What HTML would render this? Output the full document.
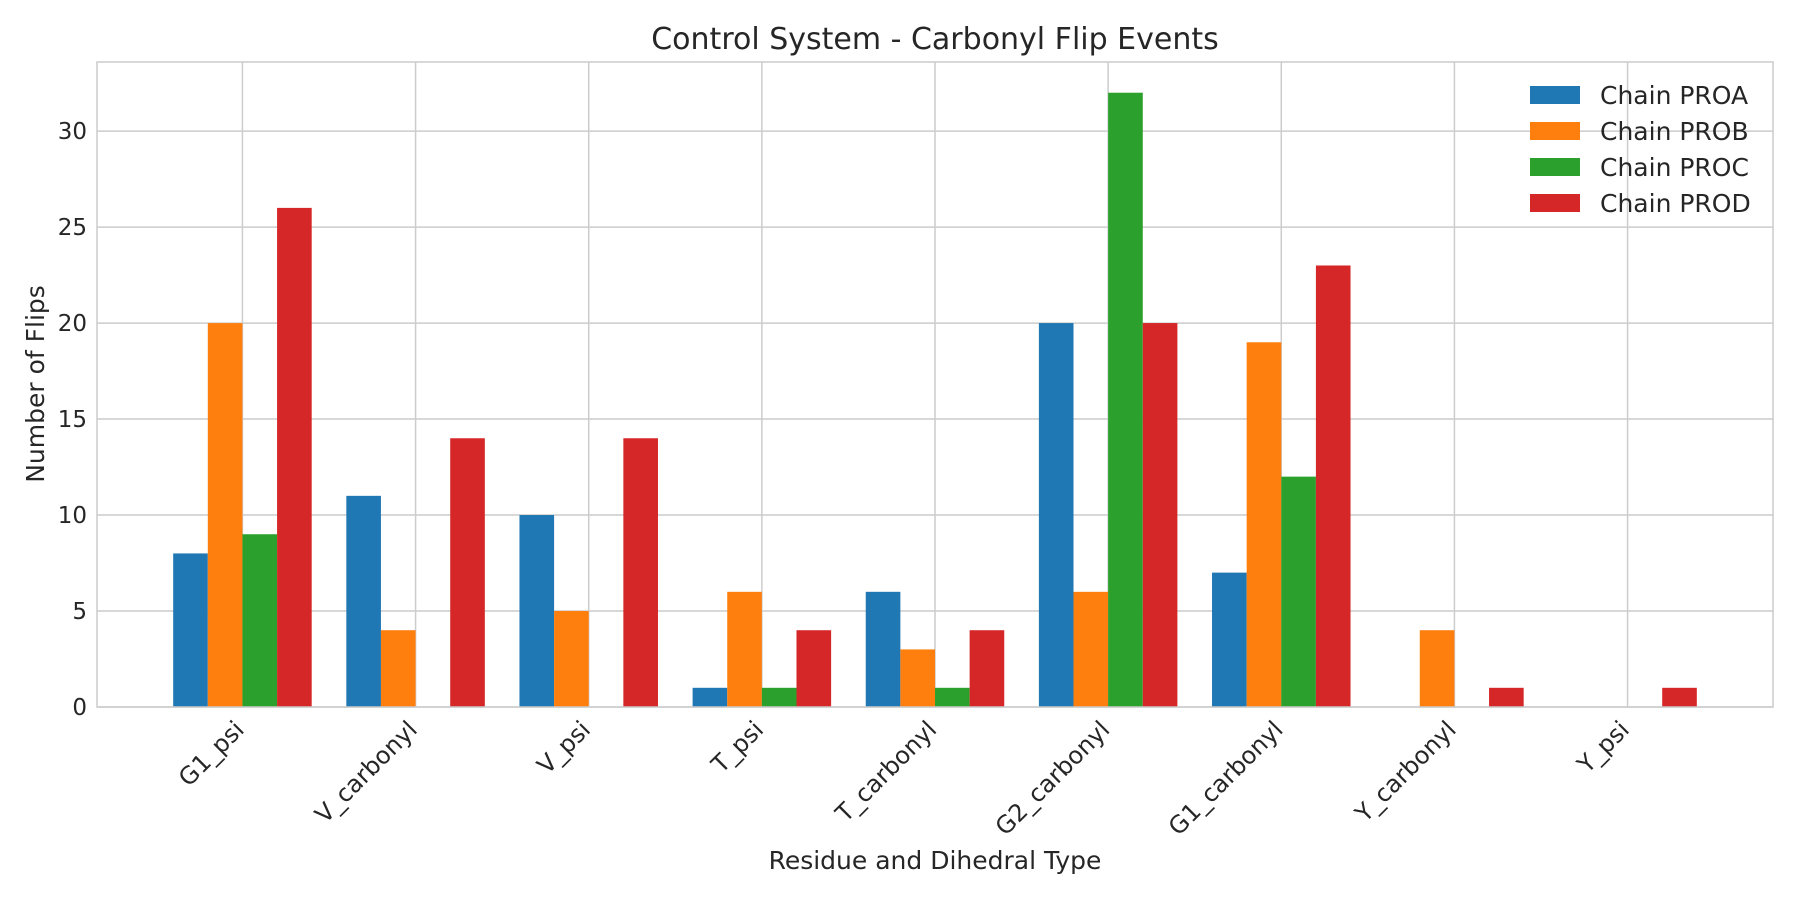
<!DOCTYPE html>
<html><head><meta charset="utf-8"><style>body{margin:0;background:#fff}svg text{font-family:"DejaVu Sans","Liberation Sans",sans-serif;fill:#262626}</style></head>
<body>
<svg id="chart" width="1800" height="900" xmlns="http://www.w3.org/2000/svg">
<text x="935" y="49" font-size="30" text-anchor="middle">Control System - Carbonyl Flip Events</text>
<text x="935" y="869" font-size="25" text-anchor="middle">Residue and Dihedral Type</text>
<text transform="translate(44,384) rotate(-90)" font-size="25" text-anchor="middle">Number of Flips</text>
<g id="grid"></g><g id="bars"></g><g id="ticks"></g>
<rect x="97" y="62" width="1676" height="645" fill="none" stroke="#ccc" stroke-width="1.5"/>
<g id="legend"></g>
</svg>
<script>
const categories=["G1_psi","V_carbonyl","V_psi","T_psi","T_carbonyl","G2_carbonyl","G1_carbonyl","Y_carbonyl","Y_psi"];
const seriesNames=["Chain PROA","Chain PROB","Chain PROC","Chain PROD"];
const proa=[8,11,10,1,6,20,7,0,0];
const prob=[20,4,5,6,3,6,19,4,0];
const proc=[9,0,0,1,1,32,12,0,0];
const prod=[26,14,14,4,4,20,23,1,1];
const yTicks=[0,5,10,15,20,25,30];
const colors=["#1f77b4","#ff7f0e","#2ca02c","#d62728"];
const series=[proa,prob,proc,prod];
const L=97,R=1773,T=62,B=707,xmin=-0.84,xmax=8.84,ymax=33.6;
const sx=v=>L+(v-xmin)/(xmax-xmin)*(R-L);
const sy=v=>B-v/ymax*(B-T);
const NS="http://www.w3.org/2000/svg";
function mk(tag,attrs,parent){const e=document.createElementNS(NS,tag);for(const k in attrs)e.setAttribute(k,attrs[k]);document.getElementById(parent).appendChild(e);return e;}
yTicks.forEach(t=>{
 const l=mk("line",{x1:L,x2:R,y1:sy(t),y2:sy(t),stroke:"#ccc","stroke-width":1.5},"grid");
 
 
 const tx=mk("text",{x:L-10,y:sy(t)+8,"font-size":23,"text-anchor":"end"},"ticks");
 tx.textContent=t;
 
 
});
categories.forEach((c,i)=>{
 const l=mk("line",{x1:sx(i),x2:sx(i),y1:T,y2:B,stroke:"#ccc","stroke-width":1.5},"grid");
 
 
 const tx=mk("text",{transform:`translate(${sx(i)+3},${B+24}) rotate(-45)`,"font-size":24,"text-anchor":"end"},"ticks");
 tx.textContent=c;
 
 
});
series.forEach((s,k)=>{
 s.forEach((v,i)=>{
  const x0=sx(i+(k-2)*0.2),x1=sx(i+(k-1)*0.2);
  const r=mk("rect",{x:x0,y:sy(v),width:x1-x0,height:sy(0)-sy(v),fill:colors[k]},"bars");
  
  
 });
});
seriesNames.forEach((n,k)=>{
 const y=95+k*36;
 const r=mk("rect",{x:1530,y:y-9,width:50,height:18,fill:colors[k]},"legend");
 
 
 const t=mk("text",{x:1600,y:y+9,"font-size":25},"legend");
 t.textContent=n;
 
 
});
</script>
</body></html>
